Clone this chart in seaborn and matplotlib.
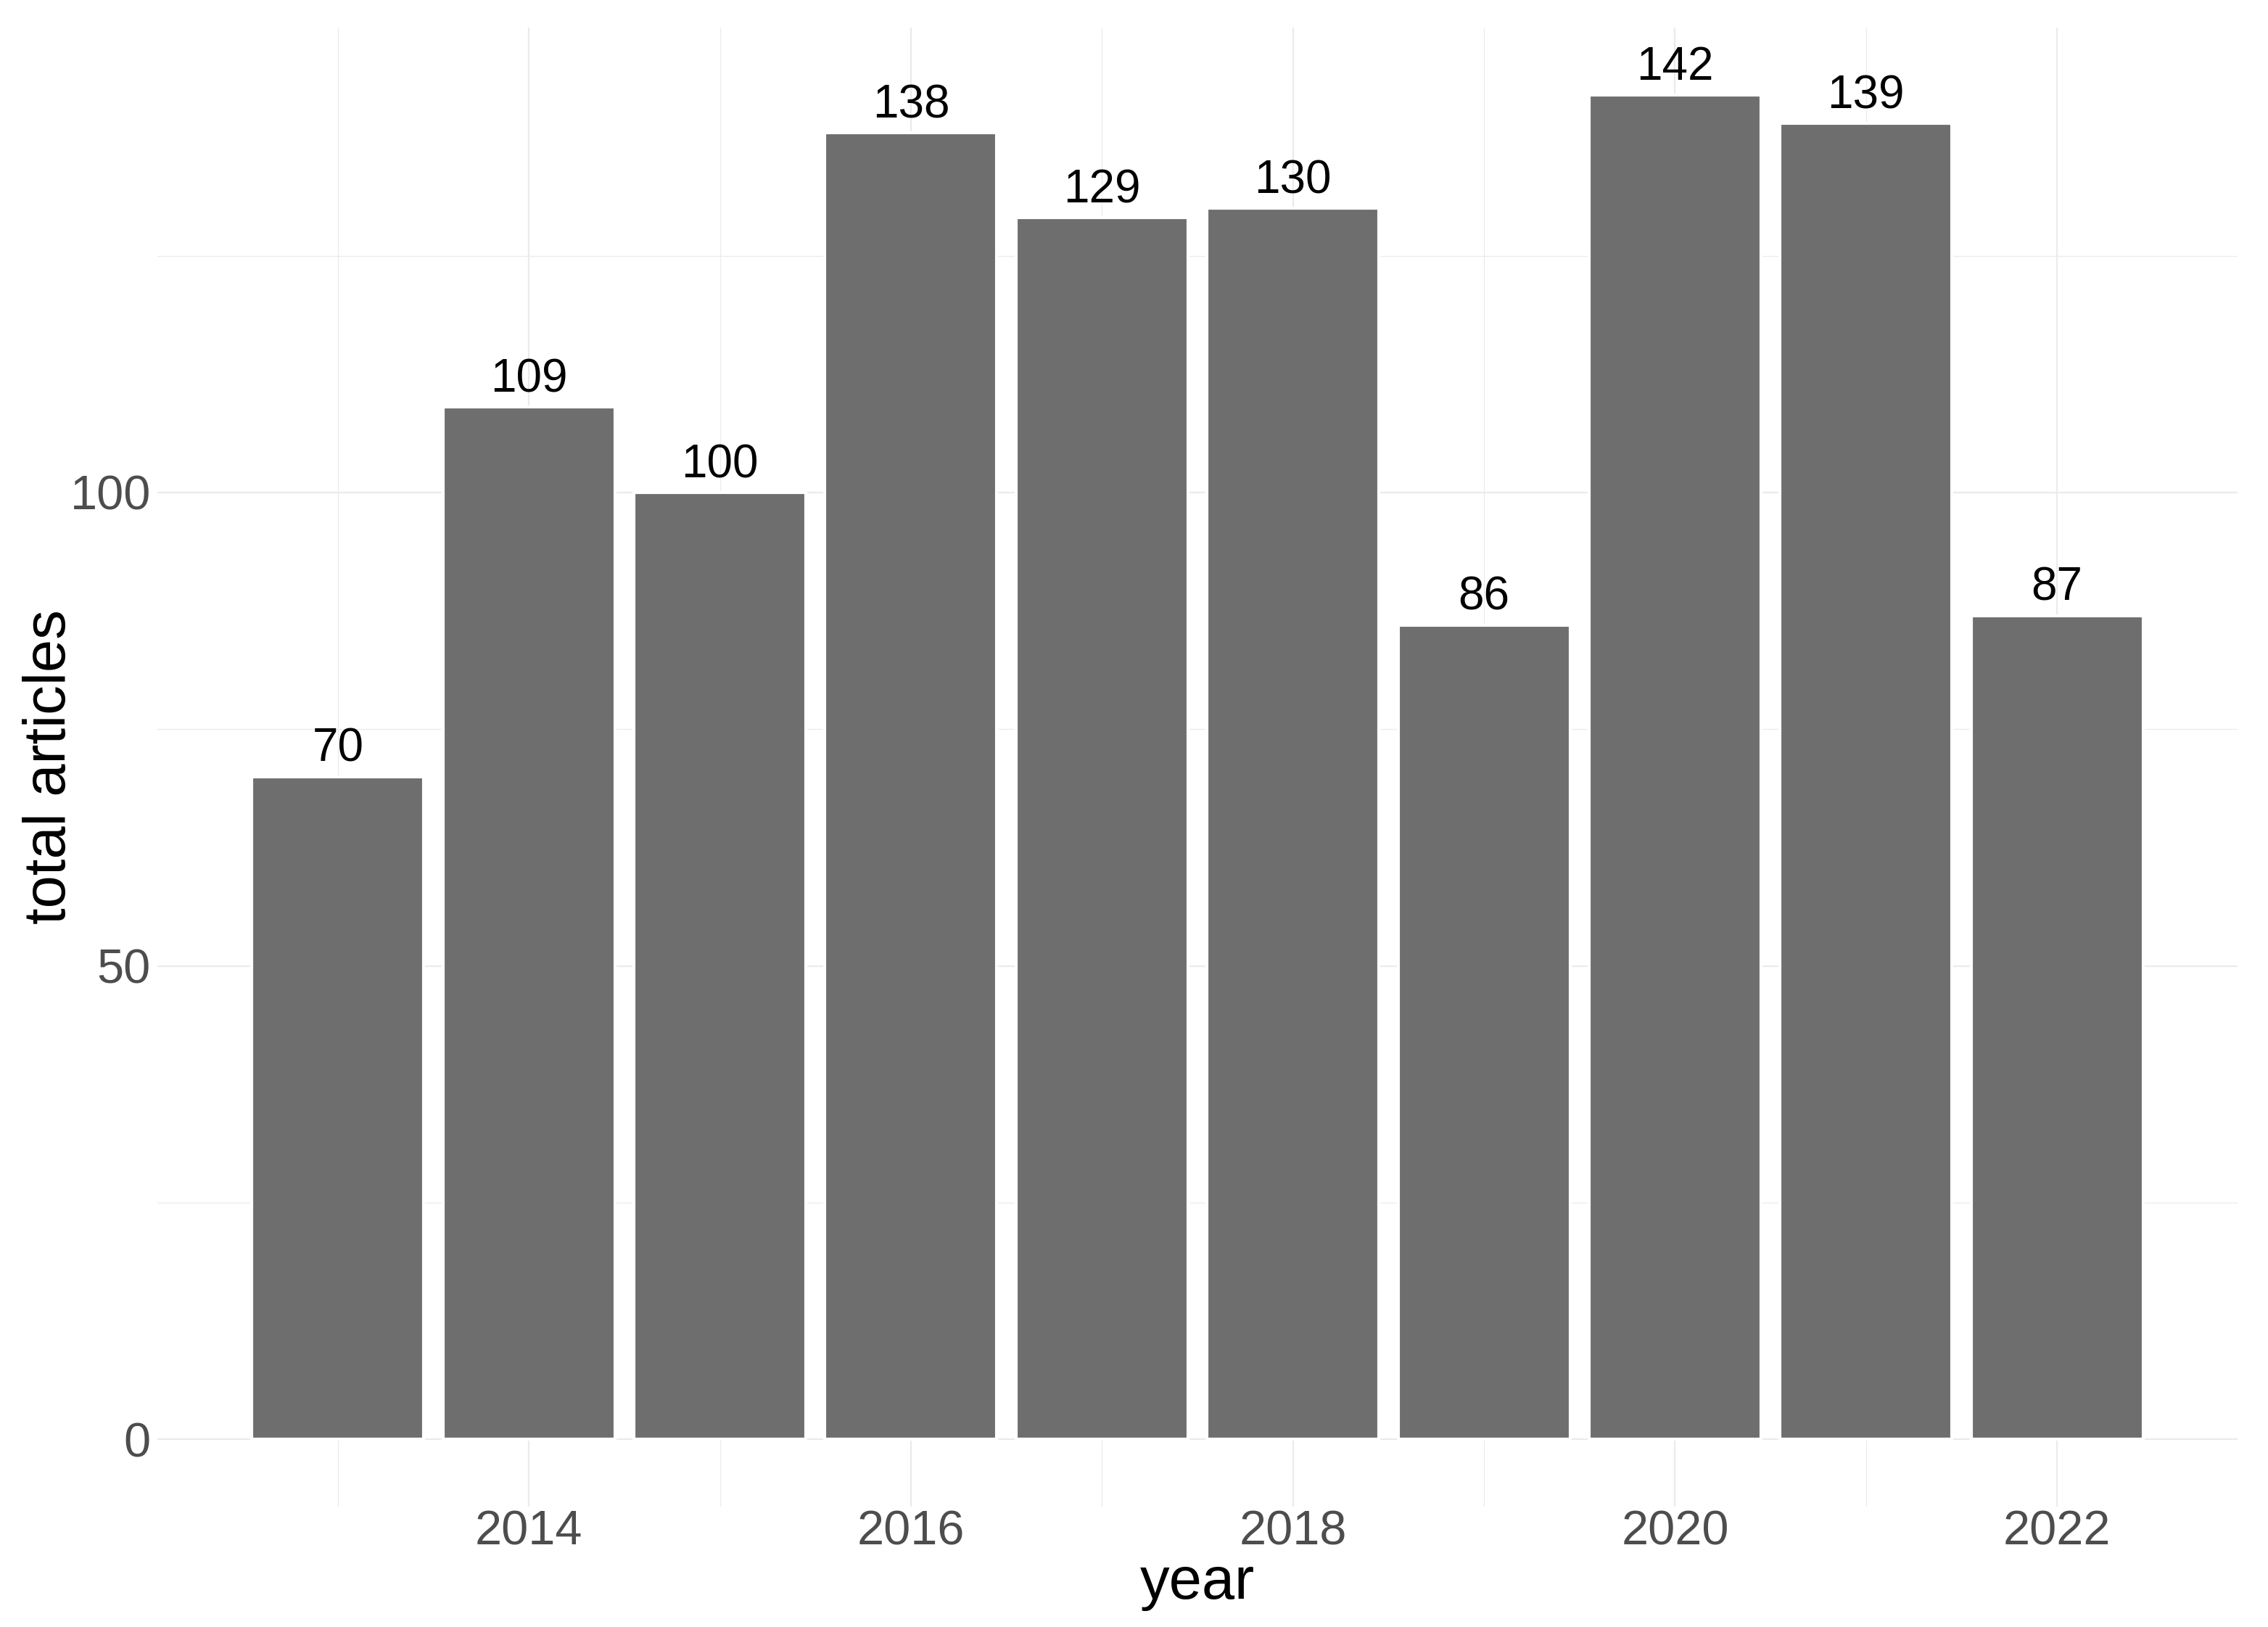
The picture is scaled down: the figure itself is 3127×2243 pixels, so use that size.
import numpy as np
import seaborn as sns
import pandas as pd
import matplotlib.pyplot as plt
from matplotlib.ticker import FixedLocator

# articles per year, bar chart in a ggplot-minimal look

years = [2013, 2014, 2015, 2016, 2017, 2018, 2019, 2020, 2021, 2022]
articles = [70, 109, 100, 138, 129, 130, 86, 142, 139, 87]
xticks = [2014, 2016, 2018, 2020, 2022]
xminor = [2013, 2015, 2017, 2019, 2021]
yticks = [0, 50, 100]
yminor = [25, 75, 125]

sns.set_style('white')
plt.rcParams['font.family'] = ['Liberation Sans', 'DejaVu Sans']

F = pd.DataFrame({'year': years, 'total': articles})

fig = plt.figure(figsize=(3128/300, 2243/300), dpi=300)
ax = fig.add_axes([217/3128, 1-2077/2243, (3085-217)/3128, (2077-38)/2243])

sns.barplot(x='year', y='total', data=F, native_scale=True, width=0.9,
            color='#6e6e6e', saturation=1, ax=ax, zorder=3)

for x, v in zip(years, articles):
    ax.annotate(str(v), (x, v), xytext=(0, 5), textcoords='offset points',
                ha='center', va='baseline', fontsize=15.3, color='black', zorder=4)

ax.set_xlim(2012.055, 2022.945)
ax.set_ylim(-7.1, 149.1)
ax.xaxis.set_major_locator(FixedLocator(xticks))
ax.xaxis.set_minor_locator(FixedLocator(xminor))
ax.yaxis.set_major_locator(FixedLocator(yticks))
ax.yaxis.set_minor_locator(FixedLocator(yminor))
ax.set_xticklabels([str(t) for t in xticks])
ax.set_yticklabels([str(t) for t in yticks])

ax.grid(which='major', color='#ebebeb', lw=0.55, zorder=0)
ax.grid(which='minor', color='#ebebeb', lw=0.3, zorder=0)
ax.set_axisbelow(True)
for s in ax.spines.values():
    s.set_visible(False)

ax.tick_params(which='both', length=0)
ax.tick_params(axis='y', labelsize=16, labelcolor='#4d4d4d', pad=2.2)
ax.tick_params(axis='x', labelsize=16, labelcolor='#4d4d4d', pad=1.2)

ax.set_xlabel('year', fontsize=19.5, color='black', va='baseline')
ax.set_ylabel('total articles', fontsize=19.5, color='black', va='baseline')
ax.xaxis.set_label_coords(0.5, -0.0623)
ax.yaxis.set_label_coords(-0.0443, 0.5)

fig.savefig('out.png', dpi=300, facecolor='white')
